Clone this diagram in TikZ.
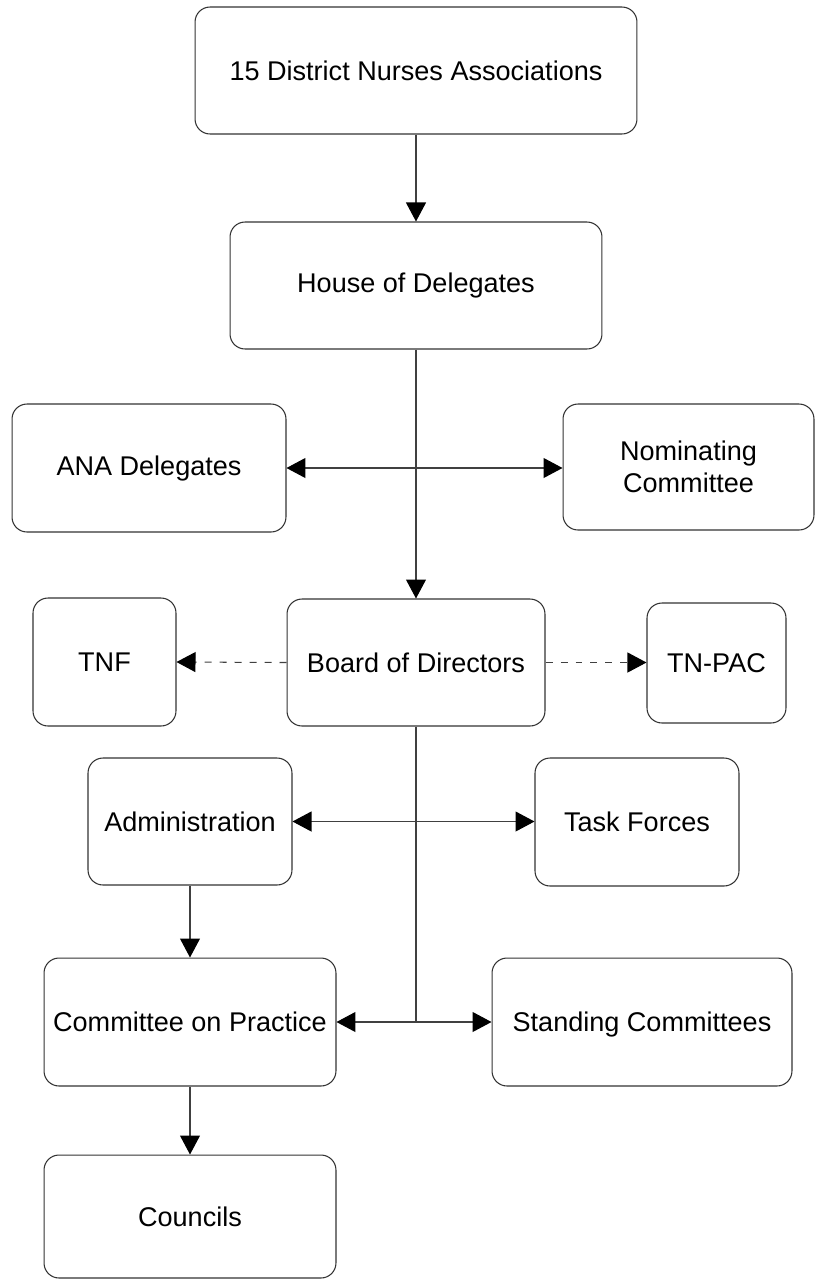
\documentclass[tikz,border=0pt]{standalone}
\usepackage{fontspec}
\setmainfont{Liberation Sans}
\usetikzlibrary{arrows.meta,positioning,calc}

\begin{document}
\begin{tikzpicture}[x=0.02cm, y=-0.02cm,
	box/.style={draw=black!80, line width=0.6pt, rounded corners=0.3cm, align=center,
	  inner sep=2pt, font=\fontsize{15.4}{18.5}\selectfont},
	link/.style={draw=black!75, line width=0.6pt},
	tip/.style={-{Triangle[length=0.38cm, width=0.4cm, color=black]}},
	tips/.style={{Triangle[length=0.38cm, width=0.4cm, color=black]}-{Triangle[length=0.38cm, width=0.4cm, color=black]}}]
	\useasboundingbox (0,0) rectangle (815,1279);
	% top of the chart
	\node[box, minimum width=8.84cm, minimum height=2.54cm] (assoc) at (416,70.5) {15 District Nurses Associations};
	\node[box, minimum width=7.44cm, minimum height=2.54cm] (house) at (416,285.5) {House of Delegates};
	\node[box, minimum width=5.48cm, minimum height=2.56cm] (ana) at (149,468) {ANA Delegates};
	\node[box, minimum width=5.02cm, minimum height=2.52cm] (nom) at (688.5,467) {Nominating\\Committee};
	% board and its affiliates
	\node[box, minimum width=2.86cm, minimum height=2.56cm] (tnf) at (104.5,662) {TNF};
	\node[box, minimum width=5.16cm, minimum height=2.54cm] (board) at (416,662.5) {Board of Directors};
	\node[box, minimum width=2.78cm, minimum height=2.4cm] (tnpac) at (716.5,663) {TN-PAC};
	% lower part
	\node[box, minimum width=4.08cm, minimum height=2.54cm] (admin) at (190,821.5) {Administration};
	\node[box, minimum width=4.08cm, minimum height=2.56cm] (task) at (637,822) {Task Forces};
	\node[box, minimum width=5.84cm, minimum height=2.56cm] (practice) at (190,1022) {Committee on Practice};
	\node[box, minimum width=6cm, minimum height=2.56cm, text depth=0pt] (standing) at (642,1022) {Standing Committees};
	\node[box, minimum width=5.84cm, minimum height=2.46cm] (councils) at (190,1216.5) {Councils};

	\draw[link, tip] (assoc) -- (house);
	\draw[link, tip] (house) -- (board);
	\draw[link, tips] (ana.east) -- (ana.east -| nom.west);
	\draw[link, tip, dashed, dash pattern=on 0.14cm off 0.16cm] (board.west) -- (tnf.east);
	\draw[link, tip, dashed, dash pattern=on 0.14cm off 0.16cm] (board.east) -- (tnpac.west |- board.east);
	\coordinate (bend) at (board.south |- practice.east);
	\draw[link] (board.south) -- (bend);
	\draw[link, tips] (admin.east) -- (admin.east -| task.west);
	\draw[link, tips] (practice.east) -- (standing.west);
	\draw[link, tip] (admin) -- (practice);
	\draw[link, tip] (practice) -- (councils);
\end{tikzpicture}
\end{document}
